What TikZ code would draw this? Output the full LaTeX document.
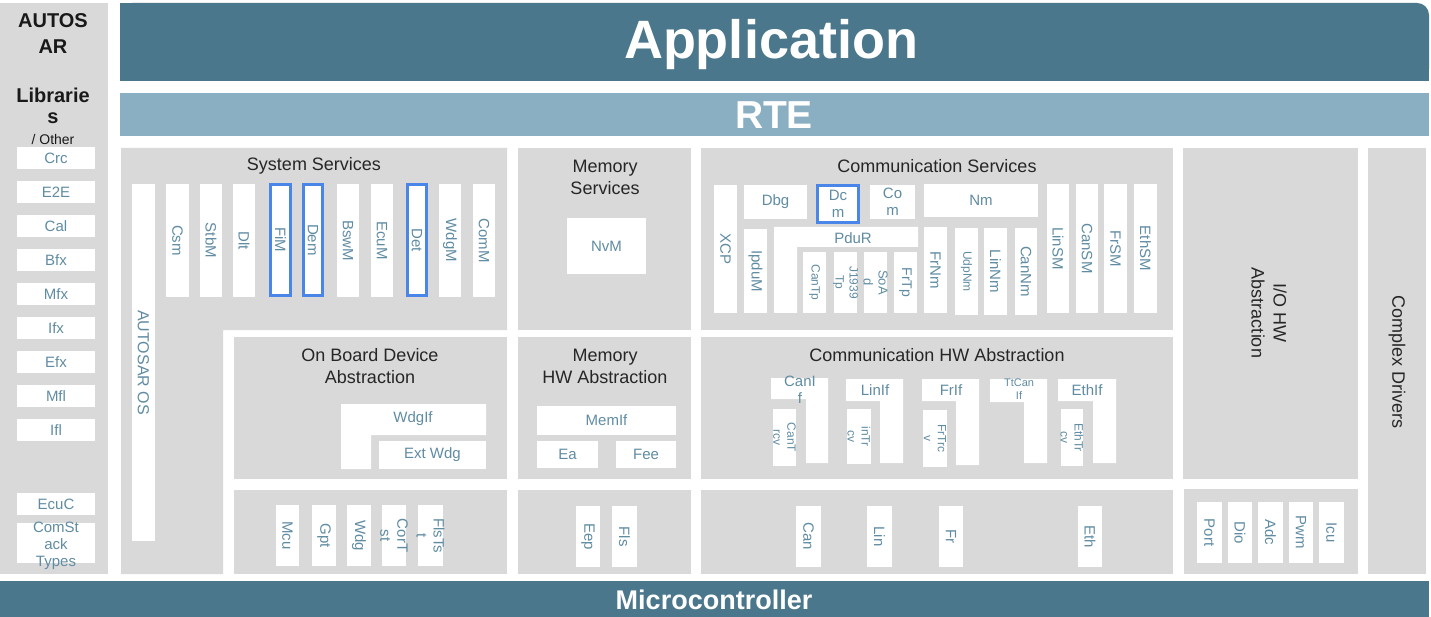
\documentclass[tikz,border=0pt]{standalone}
\usepackage{fontspec}
\setmainfont{Liberation Sans}
\usetikzlibrary{fit}
\definecolor{appc}{RGB}{74,119,140}
\definecolor{rtec}{RGB}{139,175,194}
\definecolor{grayc}{RGB}{217,217,217}
\definecolor{modc}{RGB}{96,140,163}
\definecolor{hib}{RGB}{74,134,232}
\definecolor{ttlc}{RGB}{38,38,38}
\newcommand\blk[8]{\node[wbox,#1,fit={(#4,#5)(#6,#7)}] (#3) {};\node[#2] at (#3.center) {#8};}
\newcommand\gry[5]{\node[gbox,fit={(#2,#3)(#4,#5)}] (#1) {};}
\begin{document}
\begin{tikzpicture}[x=1pt,y=-1pt,
  wbox/.style={rectangle,fill=white,draw=none,inner sep=0pt,outer sep=0pt},
  gbox/.style={rectangle,fill=grayc,draw=none,inner sep=0pt,outer sep=0pt},
  hl/.style={text=modc,font=\fontsize{15}{17}\selectfont,align=center,inner sep=0pt},
  vl/.style={hl,rotate=-90},
  sm/.style={font=\fontsize{12}{14}\selectfont},
  fxiii/.style={font=\fontsize{13}{15}\selectfont},
  fxiv/.style={font=\fontsize{14}{16}\selectfont},
  hi/.style={draw=hib,line width=3pt},
  ttl/.style={text=ttlc,font=\fontsize{18}{22}\selectfont,align=center,inner sep=0pt},
  bnd/.style={text=white,inner sep=0pt},
  lib/.style={text=black!90,font=\fontsize{20}{24}\selectfont\bfseries,inner sep=0pt}]
\useasboundingbox (0,0) rectangle (1431,617);
\fill[white] (0,0) rectangle (1431,617);
% bands
\fill[appc,rounded corners=12pt] (120,3) rectangle (1429,81);
\fill[appc] (120,3) rectangle (1380,81);
\fill[appc] (1380,40) rectangle (1429,81);
\node[bnd,font=\fontsize{54}{60}\selectfont\bfseries] (app) at (771,45) {Application};
\fill[rtec] (120,93) rectangle (1429,136);
\node[bnd,font=\fontsize{39}{44}\selectfont\bfseries] (rte) at (774,115) {RTE};
\fill[appc] (0,581) rectangle (1429,617);
\node[bnd,font=\fontsize{27}{30}\selectfont\bfseries] (mc) at (714,600) {Microcontroller};
% left column
\gry{libs}{0}{3}{108}{574}
\node[lib] (l1) at (53,21) {AUTOS};
\node[lib] (l2) at (53,47) {AR};
\node[lib] (l3) at (53,95) {Librarie};
\node[lib] (l4) at (53,118) {s};
\node[lib,font=\fontsize{14}{16}\selectfont] (l5) at (53,139) {/ Other};
\blk{}{hl}{crc}{17}{147}{95}{169}{Crc}
\blk{}{hl}{e2e}{17}{181}{95}{203}{E2E}
\blk{}{hl}{cal}{17}{215}{95}{237}{Cal}
\blk{}{hl}{bfx}{17}{249}{95}{271}{Bfx}
\blk{}{hl}{mfx}{17}{283}{95}{305}{Mfx}
\blk{}{hl}{ifx}{17}{317}{95}{339}{Ifx}
\blk{}{hl}{efx}{17}{351}{95}{373}{Efx}
\blk{}{hl}{mfl}{17}{385}{95}{407}{Mfl}
\blk{}{hl}{ifl}{17}{419}{95}{441}{Ifl}
\blk{}{hl}{ecuc}{17}{493}{95}{515}{EcuC}
\node[wbox,fit={(17,523)(95,563)}] (cst) {};
\node[hl] (cstl) at (56,546) {ComSt\\ack\\Types};
% System services
\fill[grayc] (121,148) -| (507,330) -| (223,574) -| cycle;
\node[ttl] (sstitle) at (314,166) {System Services};
\blk{}{vl,font=\fontsize{16}{18}\selectfont}{os}{132}{184}{155}{541}{AUTOSAR OS}
\blk{}{vl}{csm}{166}{184}{189}{297}{Csm}
\blk{}{vl}{stbm}{200}{184}{222}{297}{StbM}
\blk{}{vl}{dlt}{233}{184}{255}{297}{Dlt}
\blk{hi}{vl}{fim}{270.5}{184.5}{290.5}{295.5}{FiM}
\blk{hi}{vl}{dem}{303.5}{184.5}{322.5}{295.5}{Dem}
\blk{}{vl}{bswm}{337}{184}{359}{297}{BswM}
\blk{}{vl}{ecum}{371}{184}{393}{297}{EcuM}
\blk{hi}{vl}{det}{407.5}{184.5}{426.5}{295.5}{Det}
\blk{}{vl}{wdgm}{439}{184}{461}{297}{WdgM}
\blk{}{vl}{comm}{473}{184}{495}{297}{ComM}
% Memory services
\gry{memsrv}{518}{148}{691}{330}
\node[ttl] (mstitle) at (605,177) {Memory\\Services};
\blk{}{hl}{nvm}{567}{218}{646}{274}{NvM}
% Communication services
\gry{comsrv}{701}{148}{1173}{330}
\node[ttl] (cstitle) at (937,166) {Communication Services};
\blk{}{vl}{xcp}{714}{185}{737}{313}{XCP}
\blk{}{hl}{dbg}{744}{185}{807}{219}{Dbg}
\blk{hi}{hl}{dcm}{817.5}{185.5}{858.5}{222.5}{Dc\\m}
\blk{}{hl}{com}{870}{185}{915}{219}{Co\\m}
\blk{}{hl}{nm}{924}{184}{1038}{217}{Nm}
\blk{}{vl}{ipdum}{744}{229}{767}{313}{IpduM}
\fill[white] (774,227) -| (918,247) -| (797,313) -| cycle;
\node[hl] (pdur) at (853,238) {PduR};
\blk{}{vl,sm}{cantp}{803}{252}{826}{313}{CanTp}
\blk{}{vl,sm}{j1939}{834}{252}{857}{313}{J1939\\Tp}
\blk{}{vl,fxiii}{soad}{864}{252}{887}{313}{SoA\\d}
\blk{}{vl,fxiv}{frtp}{894}{252}{917}{313}{FrTp}
\blk{}{vl}{frnm}{924}{227}{947}{313}{FrNm}
\blk{}{vl,sm}{udpnm}{955}{228}{978}{315}{UdpNm}
\blk{}{vl}{linnm}{984}{228}{1007}{315}{LinNm}
\blk{}{vl}{cannm}{1015}{228}{1037}{315}{CanNm}
\blk{}{vl}{linsm}{1047}{184}{1069}{313}{LinSM}
\blk{}{vl}{cansm}{1076}{184}{1098}{313}{CanSM}
\blk{}{vl}{frsm}{1104}{184}{1127}{313}{FrSM}
\blk{}{vl}{ethsm}{1134}{184}{1157}{313}{EthSM}
% On board
\gry{onb}{234}{337}{507}{479}
\node[ttl] (obtitle) at (370,366) {On Board Device\\Abstraction};
\fill[white] (341,404) -| (486,435) -| (371,469) -| cycle;
\node[hl] (wdgif) at (413,419) {WdgIf};
\blk{}{hl}{extwdg}{379}{441}{486}{469}{Ext Wdg}
\gry{mcal1}{234}{490}{507}{574}
\blk{}{vl}{mcu}{276}{505}{299}{566}{Mcu}
\blk{}{vl}{gpt}{312}{505}{336}{566}{Gpt}
\blk{}{vl}{wdg}{347}{505}{371}{566}{Wdg}
\blk{}{vl}{cortst}{382}{505}{406}{566}{CorT\\st}
\blk{}{vl}{flstst}{418}{505}{443}{566}{FlsTs\\t}
% Memory HW
\gry{memhw}{518}{337}{691}{479}
\node[ttl] (mhtitle) at (605,366) {Memory\\HW Abstraction};
\blk{}{hl}{memif}{537}{406}{676}{435}{MemIf}
\blk{}{hl}{ea}{537}{441}{598}{468}{Ea}
\blk{}{hl}{fee}{616}{441}{676}{468}{Fee}
\gry{memdrv}{518}{490}{691}{574}
\blk{}{vl}{eep}{576}{506}{600}{567}{Eep}
\blk{}{vl}{fls}{612}{506}{637}{567}{Fls}
% Comm HW
\gry{comhw}{701}{337}{1173}{479}
\node[ttl] (chtitle) at (937,355) {Communication HW Abstraction};
\fill[white] (771,378) -| (828,463) -| (806,399) -| cycle;
\node[hl] (canif) at (800,389.5) {CanI\\f};
\blk{}{vl,sm}{cantrcv}{773}{409}{796}{466}{CanT\\rcv}
\fill[white] (846,379) -| (903,463) -| (880,401) -| cycle;
\node[hl] (linif) at (875,390) {LinIf};
\blk{}{vl,sm}{lintrcv}{847}{409}{871}{464}{inTr\\cv}
\fill[white] (922,379) -| (979,465) -| (956,401) -| cycle;
\node[hl] (frif) at (951,390) {FrIf};
\blk{}{vl,sm}{frtrcv}{923}{410}{947}{467}{FrTrc\\v}
\fill[white] (990,379) -| (1047,463) -| (1024,402) -| cycle;
\node[hl,font=\fontsize{11}{13}\selectfont] (ttcanif) at (1019,389.5) {TtCan\\If};
\fill[white] (1058,379) -| (1116,463) -| (1093,401) -| cycle;
\node[hl] (ethif) at (1087,390) {EthIf};
\blk{}{vl,sm}{ethtrcv}{1061}{409}{1083}{466}{EthTr\\cv}
\gry{comdrv}{701}{490}{1173}{574}
\blk{}{vl}{can}{796}{506}{821}{567}{Can}
\blk{}{vl}{lin}{867}{506}{892}{567}{Lin}
\blk{}{vl}{fr}{939}{506}{963}{567}{Fr}
\blk{}{vl}{eth}{1078}{506}{1102}{567}{Eth}
% IO
\gry{iohw}{1183}{148}{1358}{479}
\node[ttl,rotate=-90] (iotitle) at (1269,313) {I/O HW\\Abstraction};
\gry{iodrv}{1184}{489}{1358}{574}
\blk{}{vl}{port}{1197}{502}{1222}{563}{Port}
\blk{}{vl}{dio}{1228}{502}{1252}{563}{Dio}
\blk{}{vl}{adc}{1258}{502}{1283}{563}{Adc}
\blk{}{vl}{pwm}{1289}{502}{1313}{563}{Pwm}
\blk{}{vl}{icu}{1319}{502}{1344}{563}{Icu}
% Complex drivers
\gry{cdd}{1368}{148}{1426}{574}
\node[ttl,rotate=-90] (cddtitle) at (1397,362) {Complex Drivers};
\end{tikzpicture}
\end{document}
